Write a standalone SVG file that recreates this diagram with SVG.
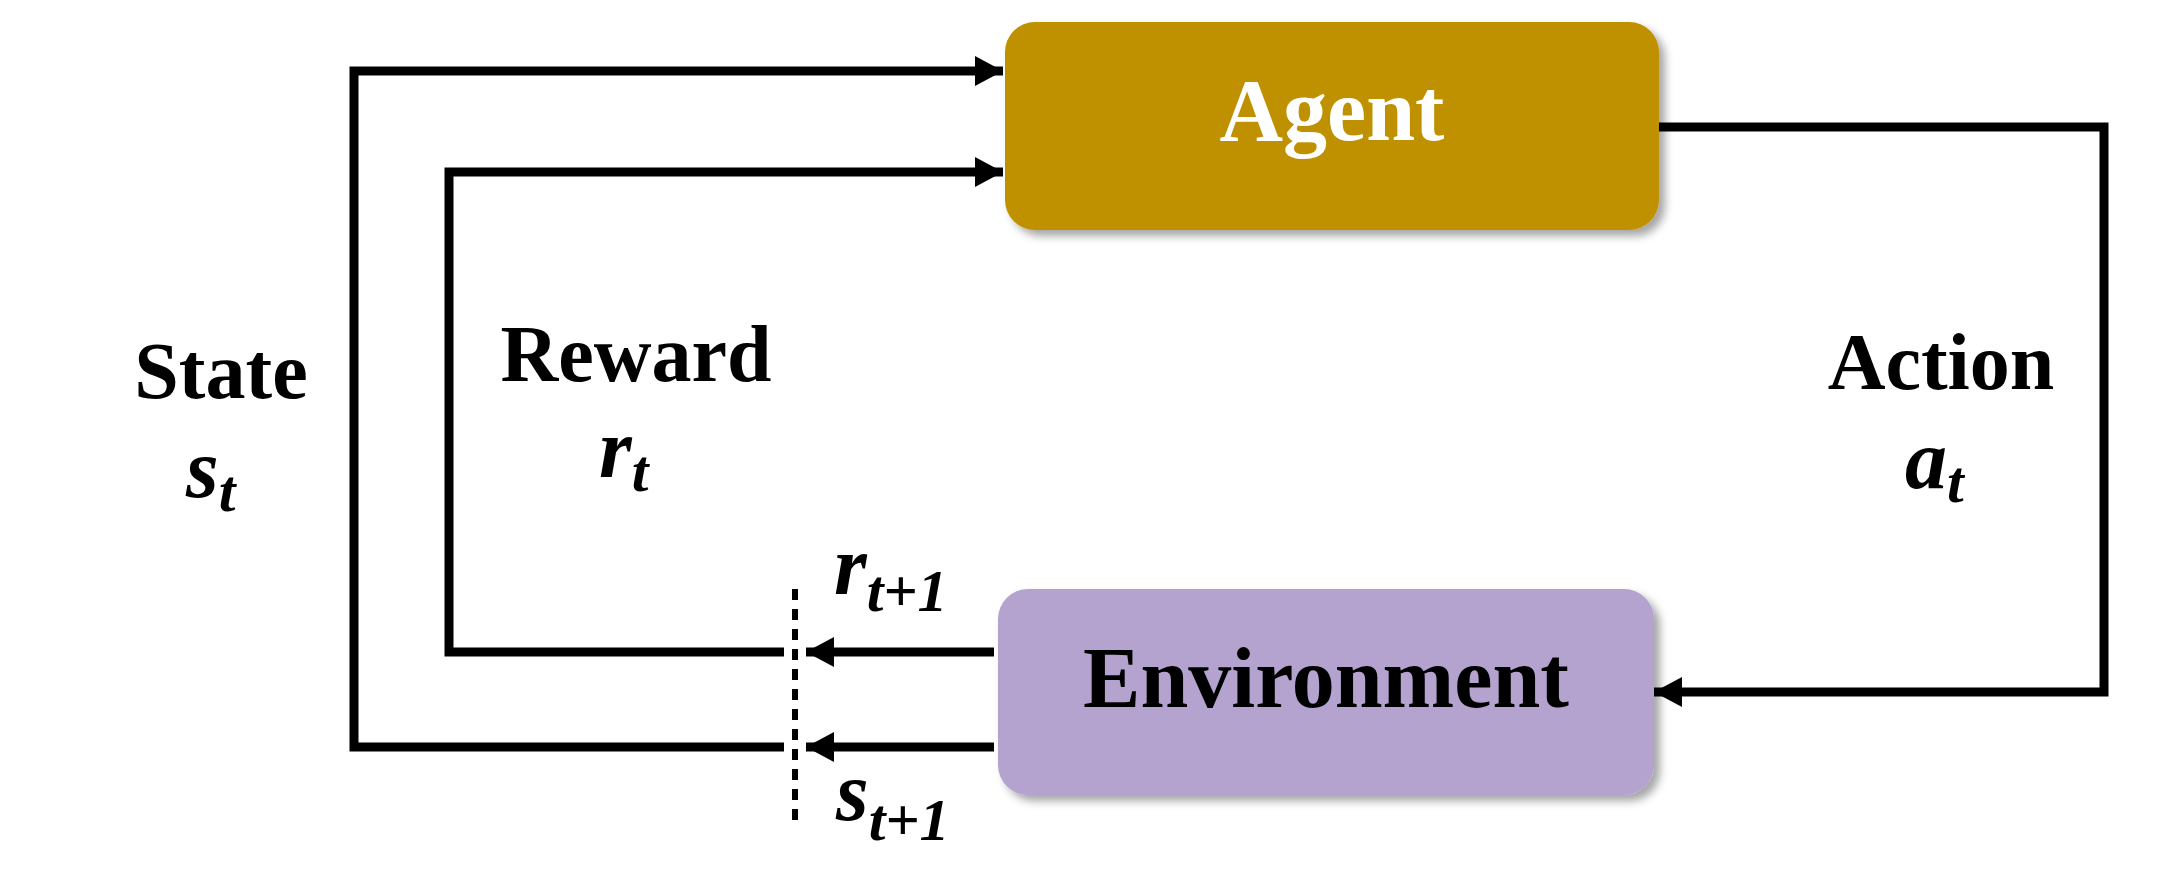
<svg xmlns="http://www.w3.org/2000/svg" width="2158" height="875" viewBox="0 0 2158 875">
<style>
.lbl{font-family:"Liberation Serif",serif;font-weight:bold;font-size:80px;fill:#000;text-anchor:middle}
.math{font-family:"Liberation Serif",serif;font-weight:bold;font-style:italic;fill:#000}
.ln{fill:none;stroke:#000;stroke-width:9}
</style>
<defs>
<filter id="sh" x="-10%" y="-10%" width="130%" height="140%"><feDropShadow dx="6" dy="6" stdDeviation="4" flood-color="#000" flood-opacity="0.35"/></filter>
<marker id="ah" markerUnits="userSpaceOnUse" markerWidth="30" markerHeight="30" refX="28" refY="15" orient="auto"><path d="M0,0 L28,15 L0,30 Z" fill="#000"/></marker>
</defs>
<rect width="2158" height="875" fill="#fff"/>
<g id="agent"><rect x="1005" y="22" width="654" height="208" rx="30" fill="#BF9000" filter="url(#sh)"/><text x="1332" y="140" style="font-family:'Liberation Serif',serif;font-weight:bold;font-size:88px;fill:#fff;text-anchor:middle">Agent</text></g>
<g id="environment"><rect x="998" y="589" width="656" height="206" rx="30" fill="#B4A3CF" filter="url(#sh)"/><text x="1326" y="707" style="font-family:'Liberation Serif',serif;font-weight:bold;font-size:86px;fill:#000;text-anchor:middle">Environment</text></g>
<g id="connectors">
<path class="ln" d="M1659,127 H2104 V692 H1654" marker-end="url(#ah)"/>
<path class="ln" d="M784,747 H354 V71 H1003" marker-end="url(#ah)"/>
<path class="ln" d="M784,652 H449 V172 H1003" marker-end="url(#ah)"/>
<path class="ln" d="M994,652 H806" marker-end="url(#ah)"/>
<path class="ln" d="M994,747 H806" marker-end="url(#ah)"/>
<line x1="795" y1="589" x2="795" y2="820" stroke="#000" stroke-width="6" stroke-dasharray="11 9"/>
</g>
<g id="labels">
<text class="lbl" x="221" y="398">State</text>
<text class="math" x="186" y="497" font-size="84">s<tspan font-size="60" dy="14">t</tspan></text>
<text class="lbl" x="636" y="381">Reward</text>
<text class="math" x="599" y="477" font-size="84">r<tspan font-size="60" dy="14">t</tspan></text>
<text class="lbl" x="1941" y="389">Action</text>
<text class="math" x="1905" y="488" font-size="84">a<tspan font-size="60" dy="14">t</tspan></text>
<text class="math" x="834" y="594" font-size="84">r<tspan font-size="60" dy="17">t+1</tspan></text>
<text class="math" x="836" y="820" font-size="84">s<tspan font-size="60" dy="20">t+1</tspan></text>
</g>
</svg>
